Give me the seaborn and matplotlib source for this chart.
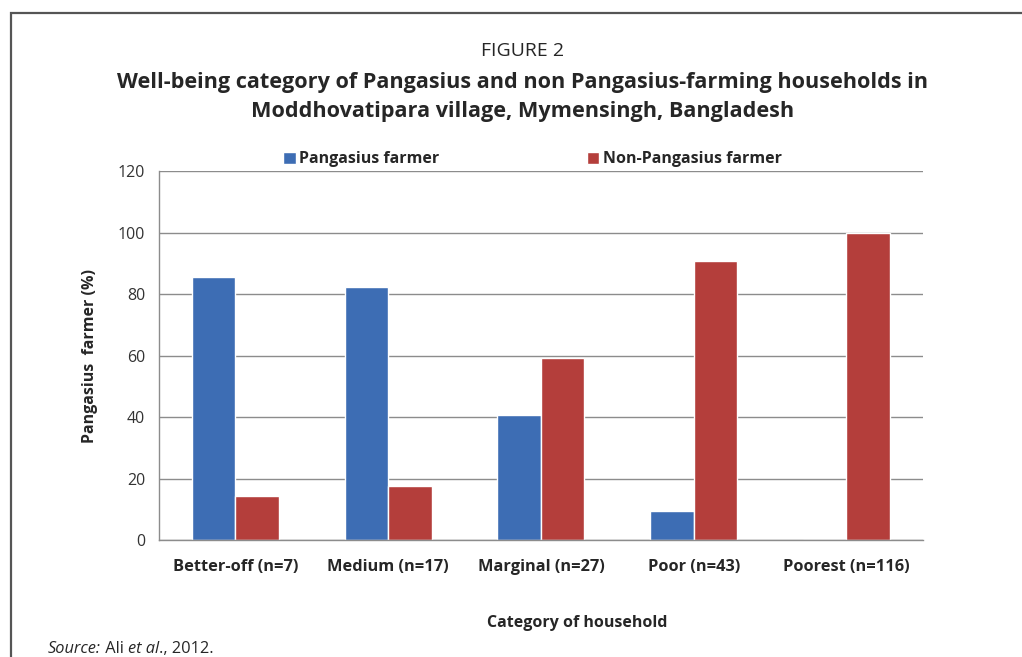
import numpy as np
import pandas as pd
import matplotlib
matplotlib.use("Agg")
import matplotlib.pyplot as plt
import seaborn as sns
from matplotlib.patches import Rectangle

# data
categories = ["Better-off (n=7)", "Medium (n=17)", "Marginal (n=27)",
              "Poor (n=43)", "Poorest (n=116)"]
pangasius = [85.7, 82.4, 40.7, 9.3, 0.0]
non_pangasius = [14.3, 17.6, 59.3, 90.7, 100.0]
series_names = ["Pangasius farmer", "Non-Pangasius farmer"]
y_ticks = [0, 20, 40, 60, 80, 100, 120]

df = pd.DataFrame({
    "category": categories * 2,
    "group": [series_names[0]] * 5 + [series_names[1]] * 5,
    "value": pangasius + non_pangasius,
})

sns.set_style("white")
plt.rcParams["font.family"] = ["Open Sans", "DejaVu Sans"]

fig = plt.figure(figsize=(10.22, 6.57), dpi=100)
ax = fig.add_axes([0.1556, 0.178, 0.7474, 0.5617])

palette = {series_names[0]: "#3D6DB4", series_names[1]: "#B43E3B"}
sns.barplot(data=df, x="category", y="value", hue="group", palette=palette,
            width=0.57, gap=0, saturation=1, ax=ax, legend=True)

ax.set_ylim(0, 120)
ax.set_xlim(-0.5, 4.5)
ax.set_yticks(y_ticks)
ax.yaxis.grid(True, color="#8c8c8c", linewidth=1.0)
ax.set_axisbelow(True)
for s in ["top", "right"]:
    ax.spines[s].set_visible(False)
for s in ["left", "bottom"]:
    ax.spines[s].set_color("#8c8c8c")
    ax.spines[s].set_linewidth(1.0)

# category labels centered, ticks at the boundaries
ax.set_xticks(np.arange(-0.5, 5.0, 1.0))
ax.set_xticklabels([])
ax.set_xticks(np.arange(5), minor=True)
ax.set_xticklabels(categories, minor=True, fontsize=11.8, fontweight="bold")
ax.tick_params(axis="x", which="major", direction="out", length=5, color="#8c8c8c")
ax.tick_params(axis="x", which="minor", length=0, pad=14)
ax.tick_params(axis="y", direction="out", length=5, color="#8c8c8c",
               labelsize=11.5, labelcolor="#333333", pad=5)

ax.set_xlabel("Category of household", fontsize=11.5, fontweight="bold")
ax.xaxis.set_label_coords(0.548, -0.225)
ax.xaxis.label.set_va("center")
ax.set_ylabel("Pangasius  farmer (%)", fontsize=11.5, fontweight="bold", labelpad=14)

ax.legend(loc="lower center", bbox_to_anchor=(0.489, 0.993), ncol=2, frameon=False,
          prop={"weight": "bold", "size": 11.5},
          handlelength=0.8, handleheight=0.8, handletextpad=0.2,
          columnspacing=9.2, borderaxespad=0)

fig.text(0.511, 0.922, "FIGURE 2", ha="center", va="center", fontsize=14)
fig.text(0.511, 0.875, "Well-being category of Pangasius and non Pangasius-farming households in",
         ha="center", va="center", fontsize=15.6, fontweight="bold")
fig.text(0.511, 0.830, "Moddhovatipara village, Mymensingh, Bangladesh",
         ha="center", va="center", fontsize=15.6, fontweight="bold")

# source line with mixed italic pieces
fig.canvas.draw()
renderer = fig.canvas.get_renderer()
x = 48 / 1022
pieces = [("Source:", "italic"), (" Ali ", "normal"), ("et al", "italic"),
          ("., 2012.", "normal")]
for txt, style in pieces:
    t = fig.text(x, 0.012, txt, fontsize=11.8, style=style, ha="left", va="center")
    bb = t.get_window_extent(renderer=renderer)
    x += bb.width / fig.bbox.width

# outer frame (top and left edges visible)
fig.patches.append(Rectangle((11 / 1022, -0.1), 1.2, 1.1 - 13 / 657,
                             transform=fig.transFigure, fill=False,
                             edgecolor="#555555", linewidth=1.6))

fig.savefig("out.png", dpi=100, facecolor="white")
